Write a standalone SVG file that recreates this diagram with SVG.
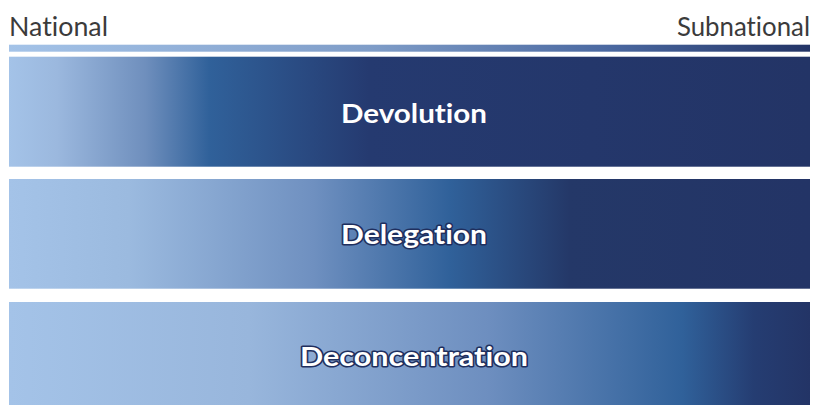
<svg xmlns="http://www.w3.org/2000/svg" width="814" height="405" viewBox="0 0 814 405">
<defs>
<linearGradient id="gTop" x1="0" x2="1" y1="0" y2="0">
<stop offset="0" stop-color="#a4c3e8"/>
<stop offset="0.45" stop-color="#7f9dc8"/>
<stop offset="0.75" stop-color="#4a68a0"/>
<stop offset="1" stop-color="#233466"/>
</linearGradient>
<linearGradient id="g1" x1="0" x2="1" y1="0" y2="0">
<stop offset="0" stop-color="#a4c3e8"/>
<stop offset="0.06" stop-color="#9bb8de"/>
<stop offset="0.17" stop-color="#6f8fbd"/>
<stop offset="0.25" stop-color="#30619a"/>
<stop offset="0.45" stop-color="#253a70"/>
<stop offset="1" stop-color="#233466"/>
</linearGradient>
<linearGradient id="g2" x1="0" x2="1" y1="0" y2="0">
<stop offset="0" stop-color="#a4c3e8"/>
<stop offset="0.15" stop-color="#9bbadf"/>
<stop offset="0.38" stop-color="#6f90c0"/>
<stop offset="0.55" stop-color="#30619a"/>
<stop offset="0.7" stop-color="#243868"/>
<stop offset="1" stop-color="#233466"/>
</linearGradient>
<linearGradient id="g3" x1="0" x2="1" y1="0" y2="0">
<stop offset="0" stop-color="#a4c3e8"/>
<stop offset="0.3" stop-color="#98b6dc"/>
<stop offset="0.6" stop-color="#6d8ebf"/>
<stop offset="0.84" stop-color="#30619a"/>
<stop offset="0.93" stop-color="#253d72"/>
<stop offset="1" stop-color="#233466"/>
</linearGradient>
</defs>
<style>
text{font-variant-ligatures:none}
.hdr{font-family:"Lato","Liberation Sans",sans-serif;font-size:26.5px;fill:#3b3b3b}
.lbl{font-family:"Lato","Liberation Sans",sans-serif;font-size:27px;font-weight:bold;fill:#ffffff;text-anchor:middle}
.out{stroke:#1f2f5e;stroke-width:3;paint-order:stroke;stroke-linejoin:round}
</style>
<g id="header">
<text class="hdr" x="9" y="36" textLength="99" lengthAdjust="spacingAndGlyphs">National</text>
<text class="hdr" x="810" y="36" text-anchor="end" textLength="133" lengthAdjust="spacingAndGlyphs">Subnational</text>
<rect x="9" y="44.7" width="801" height="7" fill="url(#gTop)"/>
</g>
<g id="devolution">
<rect x="9" y="56.7" width="801" height="110" fill="url(#g1)"/>
<text class="lbl" x="414" y="122.5" textLength="146" lengthAdjust="spacingAndGlyphs">Devolution</text>
</g>
<g id="delegation">
<rect x="9" y="179" width="801" height="109.7" fill="url(#g2)"/>
<text class="lbl out" x="414" y="243.5" textLength="146" lengthAdjust="spacingAndGlyphs">Delegation</text>
</g>
<g id="deconcentration">
<rect x="9" y="302" width="801" height="103" fill="url(#g3)"/>
<text class="lbl out" x="414" y="365.5" textLength="228" lengthAdjust="spacingAndGlyphs">Deconcentration</text>
</g>
<g id="connectors"/>
</svg>
